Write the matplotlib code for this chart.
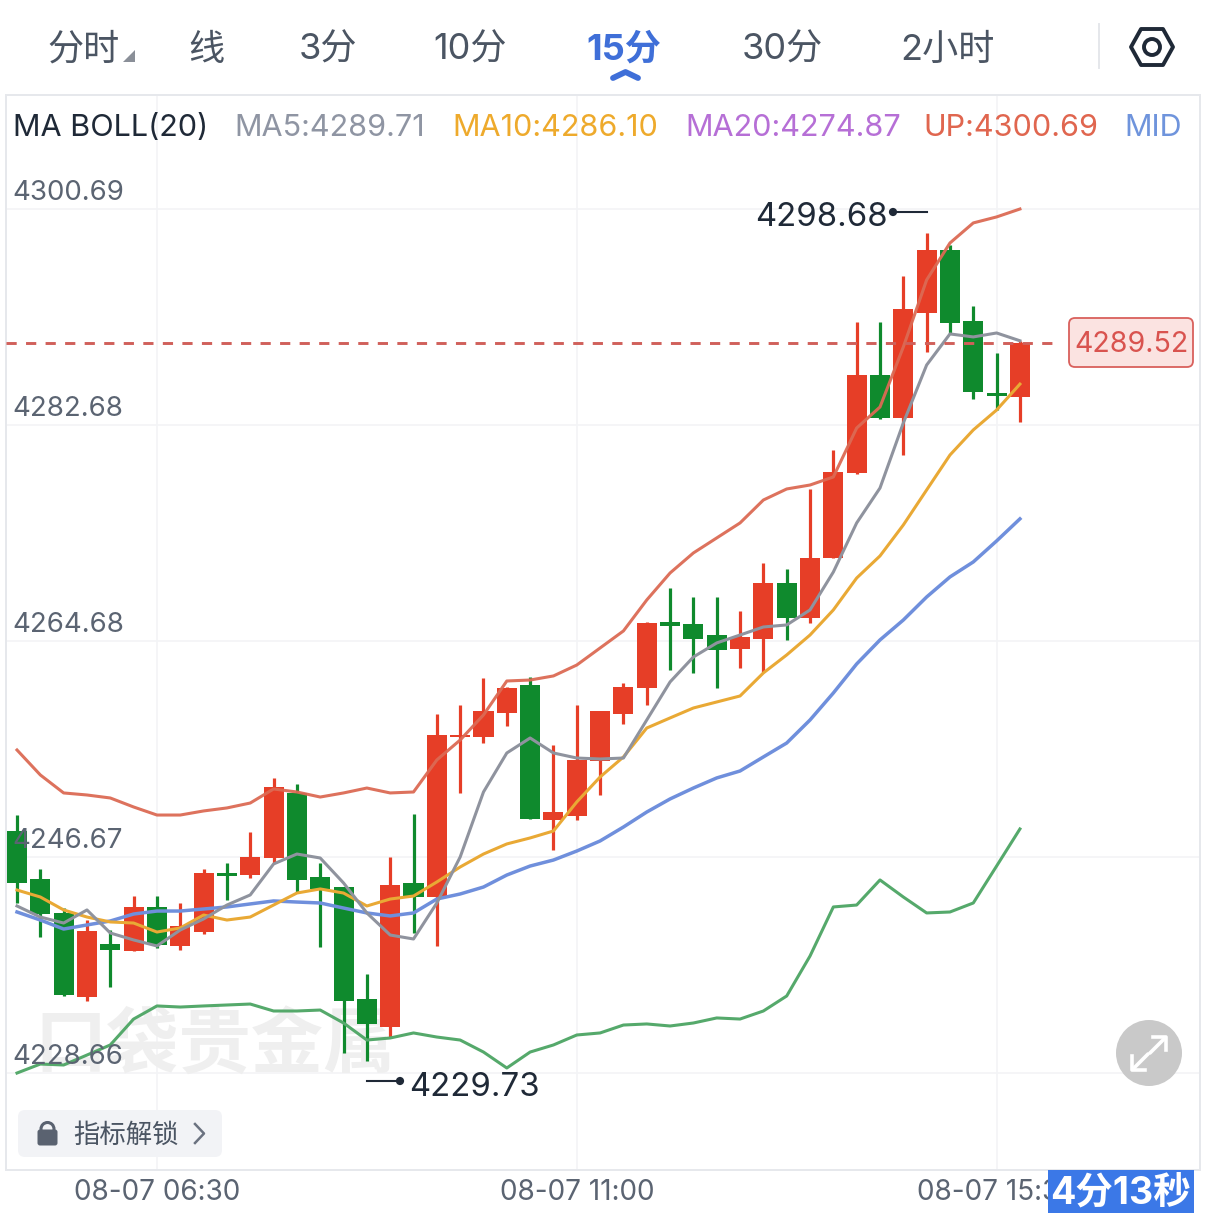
import matplotlib
matplotlib.use("Agg")
import matplotlib.pyplot as plt
from matplotlib.patches import FancyBboxPatch, Circle, Polygon, Rectangle

plt.rcParams['font.family'] = ['Inter', 'Noto Sans CJK SC', 'DejaVu Sans']

opens = [4248.86,4244.86,4242.03,4235.03,4239.44,4238.86,4242.53,4239.28,4240.44,4245.36,4245.19,4246.61,4252.03,4245.03,4244.19,4234.86,4232.53,4244.53,4243.36,4256.69,4256.69,4258.69,4261.03,4249.78,4250.11,4254.69,4258.61,4260.78,4266.28,4266.11,4265.19,4264.03,4264.86,4269.53,4266.61,4271.61,4278.69,4286.86,4283.28,4292.03,4297.28,4291.36,4285.36,4285.03]
closes = [4244.53,4241.94,4235.19,4240.53,4238.94,4242.53,4239.36,4240.94,4245.36,4245.11,4246.69,4252.53,4244.78,4244.03,4234.69,4232.78,4244.36,4243.36,4256.86,4256.86,4258.86,4260.78,4249.86,4250.44,4254.78,4258.86,4260.86,4266.19,4265.94,4264.86,4263.94,4265.03,4269.53,4266.61,4271.61,4278.78,4286.86,4283.28,4292.36,4297.28,4291.19,4285.44,4285.11,4289.52]
highs = [4250.19,4245.69,4242.44,4241.44,4240.61,4243.44,4243.44,4242.86,4245.69,4246.19,4248.78,4253.28,4252.78,4246.19,4244.19,4236.94,4246.69,4250.28,4258.61,4259.36,4261.61,4260.86,4261.69,4256.03,4259.36,4258.86,4261.19,4266.28,4269.11,4268.36,4268.36,4267.19,4271.19,4270.69,4277.36,4280.61,4291.28,4291.28,4295.11,4298.68,4297.69,4292.61,4288.69,4289.69]
lows = [4242.86,4240.03,4235.11,4234.69,4235.86,4238.86,4239.11,4238.94,4240.28,4243.11,4244.94,4246.19,4243.69,4239.19,4230.36,4229.73,4231.69,4240.36,4239.28,4252.03,4256.19,4257.61,4249.86,4247.28,4249.78,4251.86,4257.78,4259.36,4262.28,4262.03,4260.78,4262.44,4262.11,4264.78,4266.19,4271.61,4278.61,4283.19,4280.19,4288.78,4290.28,4284.86,4283.94,4282.94]

upper = [4255.61,4253.53,4252.03,4251.86,4251.61,4250.86,4250.19,4250.19,4250.53,4250.78,4251.19,4252.36,4252.11,4251.69,4252.03,4252.44,4252.03,4252.11,4254.78,4256.44,4258.53,4261.36,4261.44,4261.78,4262.69,4264.11,4265.53,4268.11,4270.36,4272.03,4273.28,4274.53,4276.44,4277.36,4277.69,4278.36,4282.44,4284.19,4289.19,4294.78,4297.86,4299.53,4300.03,4300.69]
ma5 = [4242.61,4241.69,4241.19,4242.28,4240.36,4239.78,4239.28,4240.61,4241.53,4242.69,4243.53,4246.11,4246.94,4246.61,4244.53,4242.03,4240.19,4239.86,4242.86,4246.69,4252.11,4255.36,4256.61,4255.36,4254.94,4254.86,4254.94,4258.11,4261.28,4263.36,4264.53,4265.19,4265.86,4266.03,4267.28,4270.44,4274.53,4277.44,4282.86,4287.69,4290.28,4290.03,4290.36,4289.71]
ma10 = [4243.94,4243.36,4242.28,4241.69,4241.28,4241.19,4240.44,4240.78,4241.86,4241.44,4241.69,4242.69,4243.69,4244.03,4243.69,4242.61,4243.19,4243.44,4244.61,4245.86,4246.94,4247.78,4248.28,4248.86,4251.28,4253.36,4255.03,4257.44,4258.28,4259.11,4259.61,4260.11,4262.03,4263.53,4265.19,4267.28,4269.94,4271.78,4274.36,4277.28,4280.19,4282.28,4283.94,4286.10]
mid = [4242.11,4241.44,4240.69,4241.03,4241.36,4241.94,4242.19,4242.19,4242.36,4242.53,4242.78,4243.03,4242.94,4242.86,4242.44,4242.03,4241.78,4242.03,4243.19,4243.61,4244.19,4245.19,4245.94,4246.44,4247.19,4248.03,4249.19,4250.44,4251.53,4252.44,4253.28,4253.86,4255.03,4256.19,4258.11,4260.36,4262.78,4264.78,4266.44,4268.36,4270.03,4271.28,4273.03,4274.87]
lower = [4228.69,4229.44,4229.36,4230.19,4231.03,4233.19,4234.28,4234.19,4234.28,4234.36,4234.44,4233.86,4233.86,4233.94,4232.86,4231.44,4231.61,4232.03,4231.69,4231.44,4230.44,4229.11,4230.44,4231.03,4231.86,4232.03,4232.69,4232.78,4232.61,4232.86,4233.28,4233.19,4233.86,4235.11,4238.44,4242.53,4242.69,4244.78,4243.36,4242.03,4242.11,4242.86,4245.94,4249.03]

y_ticks = [4300.69, 4282.68, 4264.68, 4246.67, 4228.66]
y_tick_labels = ['4300.69', '4282.68', '4264.68', '4246.67', '4228.66']
x_tick_pos = [6, 24, 42]
x_tick_labels = ['08-07 06:30', '08-07 11:00', '08-07 15:30']
last_price = 4289.52
tabs = ['分时', '线', '3分', '10分', '15分', '30分', '2小时']
legend_items = ['MA BOLL(20)', 'MA5:4289.71', 'MA10:4286.10', 'MA20:4274.87', 'UP:4300.69', 'MID']

W, H = 1206, 1213
RED, GREEN = '#e63e27', '#0f8a2d'
fig = plt.figure(figsize=(W / 100, H / 100), dpi=100, facecolor='white')
ax = fig.add_axes([6 / W, 1 - 1170 / H, (1200 - 6) / W, (1170 - 95) / H])
ax.set_xlim(-0.4716, 50.72)
ax.set_ylim(4220.61, 4310.19)
for s in ax.spines.values():
    s.set_color('#e6e8ec')
    s.set_linewidth(1.4)
ax.set_yticks(y_ticks)
ax.set_xticks(x_tick_pos)
ax.set_xticklabels([])
ax.set_yticklabels([])
ax.tick_params(length=0)
ax.grid(True, color='#f3f4f6', lw=1.2, zorder=0)
ax.set_axisbelow(True)

# watermark
ax.text(8.5, 4230.9, '口袋贵金属', fontsize=52, fontweight='bold', color='#efefef',
        family=['Noto Sans CJK SC'], ha='center', va='center', zorder=1)

xs = list(range(len(opens)))
for i in xs:
    c = RED if closes[i] >= opens[i] else GREEN
    ax.vlines(i, lows[i], highs[i], color=c, lw=2.3, zorder=3)
    ax.bar(i, abs(closes[i] - opens[i]), bottom=min(opens[i], closes[i]), width=0.86, color=c, zorder=3)

ax.plot(xs, lower, color='#55a96b', lw=2.2, zorder=4)
ax.plot(xs, mid, color='#6f8fdc', lw=2.5, zorder=4)
ax.plot(xs, ma10, color='#e9a935', lw=2.2, zorder=5)
ax.plot(xs, ma5, color='#8f939e', lw=2.2, zorder=5)
ax.plot(xs, upper, color='#dc6a54', lw=2.2, alpha=0.95, zorder=5)

ax.plot([-0.4716, 44.65], [last_price, last_price], color='#d0605a', lw=2.1, dashes=(3.5, 3.2), zorder=6)

# overlay in pixel coordinates for interface furniture
ui = fig.add_axes([0, 0, 1, 1], facecolor='none')
ui.set_xlim(0, W)
ui.set_ylim(H, 0)
ui.axis('off')

TAB = '#4b5563'
tab_x = [84, 206, 328, 470, 624, 782, 947]
for i, (t, x) in enumerate(zip(tabs, tab_x)):
    sel = t == '15分'
    ui.text(x, 50, t, ha='center', va='center', fontsize=26,
            color='#3f6fd8' if sel else TAB, fontweight='bold' if sel else 'normal')
ui.add_patch(Polygon([[123, 62], [135, 62], [135, 50]], color='#8a8f98', lw=0))
ui.plot([613, 625.5, 638], [78, 72, 78], color='#3f6fd8', lw=4.2, solid_capstyle='round', solid_joinstyle='round')
ui.plot([1099, 1099], [24, 68], color='#e5e7eb', lw=1.4)
ui.add_patch(Polygon([[1131, 47], [1141, 29], [1163, 29], [1173, 47], [1163, 65], [1141, 65]],
                     fill=False, edgecolor='#1f2937', lw=2.8, joinstyle='round'))
ui.add_patch(Circle((1152, 47), 8, fill=False, edgecolor='#1f2937', lw=2.8))

leg_x = [13, 234, 452, 685, 923, 1124]
leg_c = ['#1f2937', '#8f95a3', '#eeaa2c', '#b66fd6', '#e0664f', '#6f94dc']
for t, x, c in zip(legend_items, leg_x, leg_c):
    ui.text(x, 128, t, ha='left', va='center', fontsize=22, color=c)

for t, v in zip(y_tick_labels, y_ticks):
    ax.annotate(t, xy=(0, v), xycoords=('axes fraction', 'data'), xytext=(4.5, 11.8),
                textcoords='offset points', ha='left', va='center', fontsize=19.9,
                color='#5b6472', zorder=8)

# extreme value labels
ui.text(755, 217, '4298.68', ha='left', va='center', fontsize=23.7, color='#1f2937')
ui.plot([893, 927], [212, 212], color='#1f2937', lw=1.5)
ui.add_patch(Circle((893, 212), 3.4, color='#1f2937'))
ui.text(409, 1087, '4229.73', ha='left', va='center', fontsize=23.7, color='#1f2937')
ui.plot([367, 400], [1081, 1081], color='#1f2937', lw=1.5)
ui.add_patch(Circle((400, 1081), 3.4, color='#1f2937'))

# last price label
ui.add_patch(FancyBboxPatch((1072, 321), 118, 43, boxstyle='round,pad=3,rounding_size=6',
                            facecolor='#fbe3e1', edgecolor='#d9605c', lw=1.3))
ui.text(1131, 345, '4289.52', ha='center', va='center', fontsize=20.6, color='#d9534f')

# expand button
ui.add_patch(Circle((1149, 1053), 33, color='#c9c9c9', lw=0))
for p in ([(1150, 1053), (1165, 1038)], [(1148, 1054), (1133, 1069)]):
    ui.plot(*zip(*p), color='white', lw=2.6, solid_capstyle='round')
ui.plot([1153, 1166, 1166], [1037, 1037, 1050], color='white', lw=2.6, solid_joinstyle='round')
ui.plot([1132, 1132, 1145], [1056, 1070, 1070], color='white', lw=2.6, solid_joinstyle='round')

# unlock button
ui.add_patch(FancyBboxPatch((22, 1114), 196, 39, boxstyle='round,pad=4,rounding_size=7',
                            facecolor='#f2f3f6', edgecolor='none'))
ui.add_patch(FancyBboxPatch((38, 1130), 19, 15, boxstyle='round,pad=0.5,rounding_size=2.5',
                            facecolor='#5a6270', edgecolor='none'))
ui.add_patch(Circle((47.5, 1129), 6.5, fill=False, edgecolor='#5a6270', lw=2.2))
ui.text(73, 1136, '指标解锁', ha='left', va='center', fontsize=19, color=TAB)
ui.plot([195, 204, 195], [1124, 1133.5, 1143], color='#6b7280', lw=1.8)

# time axis
for p, t in zip(x_tick_pos, x_tick_labels):
    ax.annotate(t, xy=(p, 0), xycoords=('data', 'axes fraction'), xytext=(0, -16.2),
                textcoords='offset points', ha='center', va='center', fontsize=20.1,
                color='#5b6472', annotation_clip=False, zorder=8)

ui.add_patch(Rectangle((1048, 1170), 146, 43, color='#3b78e7', lw=0, zorder=10))
ui.text(1120, 1194, '4分13秒', ha='center', va='center', fontsize=27, fontweight='bold',
        color='white', zorder=11)

fig.savefig('out.png', dpi=100)
